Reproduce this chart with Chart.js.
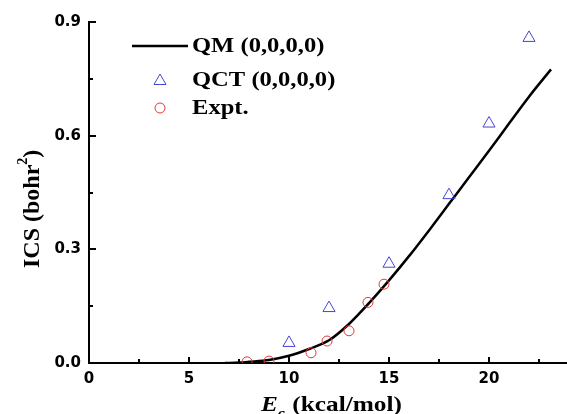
<!DOCTYPE html>
<html>
<head>
<meta charset="utf-8">
<script src="https://cdn.jsdelivr.net/npm/chart.js@4/dist/chart.umd.min.js"></script>
<style>
  html, body { margin: 0; padding: 0; background: #fff; }
  #wrap { width: 567px; height: 414px; }
</style>
</head>
<body>
<div id="wrap"><canvas id="ics-chart" width="567" height="414"></canvas></div>
<script>
// *** DATA ***
const qmEnergy = [6.8, 7.5, 8, 9, 10, 11, 12, 13, 14, 15, 16, 17, 18, 19, 20, 21, 22, 23.1];
const qmIcs = [0, 0.001, 0.003, 0.008, 0.019, 0.037, 0.06, 0.103, 0.158, 0.218, 0.282, 0.35, 0.42, 0.49, 0.56, 0.632, 0.703, 0.775];

const qctEnergy = [10, 12, 15, 18, 20, 22];
const qctIcs = [0.053, 0.145, 0.262, 0.443, 0.632, 0.858];

const exptEnergy = [7.9, 9.0, 11.1, 11.9, 13.0, 13.95, 14.75];
const exptIcs = [0.003, 0.005, 0.027, 0.058, 0.085, 0.16, 0.208];

const legendLabels = ['QM (0,0,0,0)', 'QCT (0,0,0,0)', 'Expt.'];

const toPoints = (xs, ys) => xs.map((x, i) => ({ x: x, y: ys[i] }));

const blue = 'rgb(70, 70, 215)';
const red = 'rgb(228, 55, 55)';
const tickFont = { family: 'DejaVu Sans', size: 15, weight: 'bold' };
const stretch = 1.15; // the serif text in the figure is a bit wide

// draw text squeezed/stretched horizontally, returns advance
const wideText = (ctx, text, x, y, sx) => {
    ctx.save();
    ctx.translate(x, y);
    ctx.scale(sx, 1);
    ctx.fillText(text, 0, 0);
    ctx.restore();
    return ctx.measureText(text).width * sx;
};

// ticks, axis titles and legend drawn on top
const decorations = {
    id: 'decorations',
    afterDraw(chart) {
        const ctx = chart.ctx;
        const xs = chart.scales.x;
        const ys = chart.scales.y;
        const area = chart.chartArea;
        ctx.save();
        ctx.strokeStyle = '#000';
        ctx.lineWidth = 2;

        // x axis line runs to the edge of the picture
        ctx.beginPath();
        ctx.moveTo(area.right, area.bottom);
        ctx.lineTo(chart.width, area.bottom);
        ctx.stroke();

        // x ticks (inward)
        for (let v = 0; v <= xs.max; v += 2.5) {
            const px = Math.round(xs.getPixelForValue(v));
            const len = v % 5 === 0 ? 6 : 4;
            ctx.beginPath();
            ctx.moveTo(px, area.bottom);
            ctx.lineTo(px, area.bottom - len);
            ctx.stroke();
        }
        // y ticks (inward)
        for (let i = 0; i <= 6; i++) {
            const v = i * 0.15;
            const py = Math.round(ys.getPixelForValue(v));
            const len = i % 2 === 0 ? 7 : 4;
            ctx.beginPath();
            ctx.moveTo(area.left, py);
            ctx.lineTo(area.left + len, py);
            ctx.stroke();
        }

        // y title with superscript 2
        ctx.fillStyle = '#000';
        ctx.save();
        ctx.translate(39, 268);
        ctx.rotate(-Math.PI / 2);
        ctx.textAlign = 'left';
        ctx.textBaseline = 'alphabetic';
        ctx.font = 'bold 24px "Liberation Serif"';
        let ty = 0;
        ctx.fillText('ICS (bohr', ty, 0);
        ty += ctx.measureText('ICS (bohr').width;
        ctx.font = 'bold 14px "Liberation Serif"';
        ctx.fillText('2', ty, -12);
        ty += ctx.measureText('2').width;
        ctx.font = 'bold 24px "Liberation Serif"';
        ctx.fillText(')', ty, 0);
        ctx.restore();

        // x title: E (italic) with subscript c
        ctx.textAlign = 'left';
        ctx.textBaseline = 'alphabetic';
        const baseY = 411;
        let tx = 261;
        ctx.font = 'italic bold 22px "Liberation Serif"';
        tx += wideText(ctx, 'E', tx, baseY, stretch);
        ctx.font = 'italic bold 14px "Liberation Serif"';
        tx += wideText(ctx, 'c', tx, baseY + 7, stretch) + 1;
        ctx.font = 'bold 22px "Liberation Serif"';
        wideText(ctx, ' (kcal/mol)', tx, baseY, stretch);

        // legend
        ctx.font = 'bold 21px "Liberation Serif"';
        ctx.textBaseline = 'middle';
        const textX = 192;
        const rows = [46, 80, 108];
        ctx.lineWidth = 2.5;
        ctx.beginPath();
        ctx.moveTo(132, rows[0]);
        ctx.lineTo(188, rows[0]);
        ctx.stroke();
        ctx.strokeStyle = blue;
        ctx.lineWidth = 1;
        ctx.beginPath();
        ctx.moveTo(160, rows[1] - 6);
        ctx.lineTo(166, rows[1] + 4.5);
        ctx.lineTo(154, rows[1] + 4.5);
        ctx.closePath();
        ctx.stroke();
        ctx.strokeStyle = red;
        ctx.beginPath();
        ctx.arc(160, rows[2], 5, 0, Math.PI * 2);
        ctx.stroke();
        ctx.fillStyle = '#000';
        legendLabels.forEach((t, i) => wideText(ctx, t, textX, rows[i] + 1, 1.17));
        ctx.restore();
    }
};

const data = {
    datasets: [
        {
            label: legendLabels[0],
            data: toPoints(qmEnergy, qmIcs),
            showLine: true,
            borderColor: '#000',
            borderWidth: 2.5,
            pointRadius: 0,
            cubicInterpolationMode: 'monotone',
            order: 3
        },
        {
            label: legendLabels[1],
            data: toPoints(qctEnergy, qctIcs),
            pointStyle: 'triangle',
            pointRadius: 7,
            borderColor: blue,
            backgroundColor: 'rgba(0,0,0,0)',
            borderWidth: 1,
            order: 1
        },
        {
            label: legendLabels[2],
            data: toPoints(exptEnergy, exptIcs),
            pointStyle: 'circle',
            pointRadius: 5,
            borderColor: red,
            backgroundColor: 'rgba(0,0,0,0)',
            borderWidth: 1,
            order: 2
        }
    ]
};

const config = {
    type: 'scatter',
    data: data,
    options: {
        responsive: false,
        animation: false,
        layout: { padding: { top: 22, right: 0, left: 0, bottom: 0 } },
        plugins: {
            legend: { display: false },
            tooltip: { enabled: false }
        },
        scales: {
            x: {
                type: 'linear',
                min: 0,
                max: 23.5,
                afterFit: (scale) => { scale.height = 51; },
                afterBuildTicks: (scale) => {
                    scale.ticks = [0, 5, 10, 15, 20].map(v => ({ value: v }));
                },
                ticks: { color: '#000', font: tickFont, padding: 7, maxRotation: 0 },
                grid: { display: true, drawOnChartArea: false, drawTicks: false },
                border: { display: true, color: '#000', width: 2 }
            },
            y: {
                type: 'linear',
                min: 0,
                max: 0.9,
                afterFit: (scale) => { scale.width = 89; },
                afterBuildTicks: (scale) => {
                    scale.ticks = [0, 0.3, 0.6, 0.9].map(v => ({ value: v }));
                },
                ticks: { color: '#000', font: tickFont, padding: 8, callback: (v) => v.toFixed(1) },
                grid: { display: true, drawOnChartArea: false, drawTicks: false },
                border: { display: true, color: '#000', width: 2 }
            }
        }
    },
    plugins: [decorations]
};

const icsChart = new Chart(document.getElementById('ics-chart'), config);
</script>
</body>
</html>
